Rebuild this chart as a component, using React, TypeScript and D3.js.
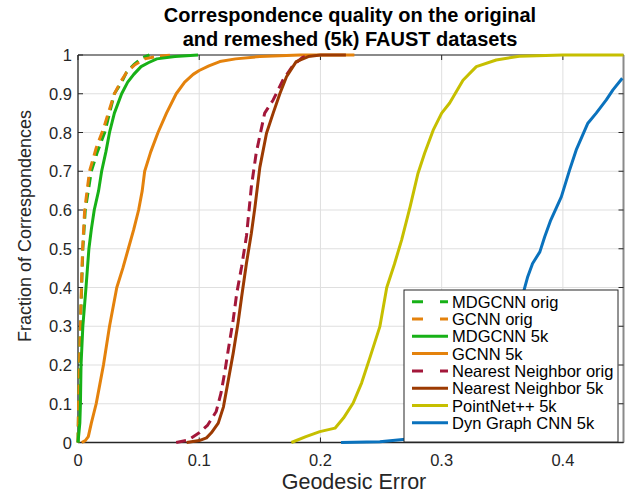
import React from "react"
import * as d3 from "d3"

// CDF curves: [geodesic error, fraction of correspondences]
const mdgcnnOrig: [number, number][] = [
  [0, 0], [0.0005, 0.1], [0.001, 0.2], [0.002, 0.3], [0.003, 0.4], [0.004, 0.5],
  [0.006, 0.6], [0.011, 0.7], [0.016, 0.75], [0.022, 0.8], [0.026, 0.85], [0.03, 0.9],
  [0.036, 0.93], [0.04, 0.955], [0.046, 0.975], [0.0525, 0.992], [0.059, 1],
]
const gcnnOrig: [number, number][] = [
  [0, 0], [0.0005, 0.1], [0.0012, 0.2], [0.002, 0.3], [0.0028, 0.4], [0.0038, 0.5],
  [0.0055, 0.6], [0.0095, 0.7], [0.015, 0.76], [0.021, 0.81], [0.026, 0.86], [0.03, 0.9],
  [0.035, 0.93], [0.04, 0.955], [0.047, 0.975], [0.055, 0.99], [0.066, 0.997], [0.078, 1],
]
const mdgcnn5k: [number, number][] = [
  [0, 0], [0.0015, 0.05], [0.002, 0.1], [0.0025, 0.2], [0.004, 0.3], [0.0066, 0.4],
  [0.009, 0.5], [0.011, 0.55], [0.0134, 0.6], [0.017, 0.65], [0.0195, 0.7], [0.023, 0.75],
  [0.026, 0.8], [0.03, 0.85], [0.036, 0.9], [0.041, 0.93], [0.046, 0.95], [0.052, 0.97],
  [0.058, 0.98], [0.065, 0.99], [0.08, 0.996], [0.099, 1],
]
const gcnn5k: [number, number][] = [
  [0.003, 0], [0.006, 0.005], [0.0085, 0.015], [0.011, 0.05], [0.015, 0.1], [0.018, 0.15],
  [0.021, 0.2], [0.026, 0.3], [0.032, 0.4], [0.037, 0.45], [0.0415, 0.5], [0.046, 0.55],
  [0.05, 0.6], [0.053, 0.65], [0.055, 0.7], [0.06, 0.75], [0.066, 0.8], [0.073, 0.85],
  [0.081, 0.9], [0.088, 0.93], [0.095, 0.95], [0.1, 0.96], [0.108, 0.972], [0.117, 0.983],
  [0.13, 0.99], [0.15, 0.996], [0.183, 1], [0.228, 1],
]
const nnOrig: [number, number][] = [
  [0.081, 0], [0.0907, 0.006], [0.1, 0.025], [0.107, 0.045], [0.114, 0.08], [0.118, 0.128],
  [0.121, 0.18], [0.124, 0.24], [0.128, 0.316], [0.131, 0.386], [0.135, 0.454], [0.139, 0.533],
  [0.143, 0.66], [0.147, 0.747], [0.154, 0.85], [0.161, 0.884], [0.169, 0.935], [0.1775, 0.974],
  [0.185, 0.993], [0.191, 1],
]
const nn5k: [number, number][] = [
  [0.0896, 0], [0.1, 0.005], [0.106, 0.012], [0.11, 0.025], [0.1157, 0.05], [0.12, 0.092],
  [0.124, 0.161], [0.128, 0.23], [0.132, 0.308], [0.135, 0.376], [0.139, 0.463], [0.143, 0.54],
  [0.146, 0.608], [0.15, 0.71], [0.1555, 0.798], [0.161, 0.85], [0.1665, 0.9], [0.172, 0.944],
  [0.18, 0.983], [0.19, 0.996], [0.2, 1], [0.221, 1],
]
const pointnet5k: [number, number][] = [
  [0.176, 0], [0.188, 0.015], [0.1995, 0.028], [0.212, 0.037], [0.219, 0.063], [0.227, 0.102],
  [0.234, 0.154], [0.241, 0.221], [0.249, 0.299], [0.2547, 0.4], [0.261, 0.46], [0.267, 0.523],
  [0.274, 0.609], [0.2805, 0.695], [0.286, 0.747], [0.293, 0.806], [0.3, 0.85], [0.3066, 0.876],
  [0.3176, 0.935], [0.3286, 0.97], [0.345, 0.987], [0.364, 0.997], [0.4, 1], [0.45, 1],
]
const dgcnn5k: [number, number][] = [
  [0.217, 0], [0.249, 0.002], [0.268, 0.008], [0.282, 0.012], [0.3, 0.025], [0.325, 0.07],
  [0.345, 0.16], [0.358, 0.27], [0.368, 0.394], [0.371, 0.428], [0.375, 0.462], [0.381, 0.492],
  [0.385, 0.531], [0.39, 0.574], [0.3987, 0.634], [0.4055, 0.703], [0.411, 0.755], [0.4206, 0.824],
  [0.4275, 0.85], [0.4358, 0.884], [0.4413, 0.91], [0.449, 0.94],
]

const seriesNames = [
  "MDGCNN orig", "GCNN orig", "MDGCNN 5k", "GCNN 5k",
  "Nearest Neighbor orig", "Nearest Neighbor 5k", "PointNet++ 5k", "Dyn Graph CNN 5k",
]
const seriesData = [mdgcnnOrig, gcnnOrig, mdgcnn5k, gcnn5k, nnOrig, nn5k, pointnet5k, dgcnn5k]
const seriesColors = [
  "#17b117", "#e4820c", "#17b117", "#e4820c", "#a3173a", "#9c3a02", "#c6bf00", "#0a72bd",
]
const seriesDashed = [true, true, false, false, true, false, false, false]

const xTicks = [0, 0.1, 0.2, 0.3, 0.4]
const yTicks = [0, 0.1, 0.2, 0.3, 0.4, 0.5, 0.6, 0.7, 0.8, 0.9, 1]

const W = 628
const H = 495
const left = 78
const right = 623.5
const top = 55
const bottom = 442.5
const font = "'Liberation Sans', Arial, Helvetica, sans-serif"

export default function App() {
  const x = d3.scaleLinear().domain([0, 0.45]).range([left, right])
  const y = d3.scaleLinear().domain([0, 1]).range([bottom, top])
  const line = d3
    .line<[number, number]>()
    .x(d => x(d[0]))
    .y(d => y(d[1]))

  const lgX = 404
  const lgY = 290
  const lgRow = 17.3

  return (
    <svg
      width={W}
      height={H}
      style={{ position: "absolute", left: 0, top: 0, background: "#fff" }}
      fontFamily={font}
    >
      <rect width={W} height={H} fill="#fff" />

      {/* grid */}
      <g stroke="#dfdfdf" strokeWidth={1}>
        {xTicks.filter(t => t > 0).map(t => (
          <line key={"gx" + t} x1={x(t)} x2={x(t)} y1={top} y2={bottom} />
        ))}
        {yTicks.filter(t => t > 0 && t < 1).map(t => (
          <line key={"gy" + t} x1={left} x2={right} y1={y(t)} y2={y(t)} />
        ))}
      </g>

      {/* box + ticks */}
      <g fill="none">
        <line x1={left} x2={right} y1={top} y2={top} stroke="#8a8a8a" strokeWidth={2} />
        <line x1={right} x2={right} y1={top} y2={bottom} stroke="#8a8a8a" strokeWidth={2} />
        <line x1={left} x2={left} y1={top} y2={bottom} stroke="#262626" strokeWidth={1.3} />
        <line x1={left} x2={right} y1={bottom} y2={bottom} stroke="#262626" strokeWidth={1.3} />
        {xTicks.map(t => (
          <g key={"tx" + t}>
            <line x1={x(t)} x2={x(t)} y1={bottom} y2={bottom - 5} stroke="#262626" />
            <line x1={x(t)} x2={x(t)} y1={top} y2={top + 5} stroke="#262626" />
          </g>
        ))}
        {yTicks.map(t => (
          <g key={"ty" + t}>
            <line x1={left} x2={left + 5} y1={y(t)} y2={y(t)} stroke="#262626" />
            <line x1={right} x2={right - 5} y1={y(t)} y2={y(t)} stroke="#262626" />
          </g>
        ))}
      </g>

      {/* tick labels */}
      <g fontSize={16.5} fill="#262626">
        {xTicks.map(t => (
          <text key={"lx" + t} x={x(t)} y={466} textAnchor="middle">
            {d3.format("~g")(t)}
          </text>
        ))}
        {yTicks.map(t => (
          <text key={"ly" + t} x={72} y={y(t) + 6} textAnchor="end">
            {d3.format("~g")(t)}
          </text>
        ))}
      </g>

      {/* curves */}
      <g fill="none" strokeWidth={3} strokeLinejoin="round">
        {seriesData.map((s, i) => (
          <path
            key={seriesNames[i]}
            d={line(s) || ""}
            stroke={seriesColors[i]}
            strokeDasharray={seriesDashed[i] ? "10 6" : undefined}
          />
        ))}
      </g>

      {/* axis titles */}
      <text x={354} y={489} textAnchor="middle" fontSize={21.5} fill="#262626">
        Geodesic Error
      </text>
      <text
        transform={`translate(31,226) rotate(-90)`}
        textAnchor="middle"
        fontSize={18}
        fill="#262626"
      >
        Fraction of Correspondences
      </text>
      <g fontSize={20} fontWeight="bold" textAnchor="middle" fill="#000">
        <text x={350} y={22}>Correspondence quality on the original</text>
        <text x={350} y={46}>and remeshed (5k) FAUST datasets</text>
      </g>

      {/* legend */}
      <g>
        <rect x={lgX} y={lgY} width={214} height={152} fill="#fff" stroke="#262626" strokeWidth={1} />
        {seriesNames.map((n, i) => {
          const cy = lgY + 11.7 + i * lgRow
          return (
            <g key={"lg" + n}>
              <line
                x1={lgX + 8}
                x2={lgX + 44}
                y1={cy}
                y2={cy}
                stroke={seriesColors[i]}
                strokeWidth={3}
                strokeDasharray={seriesDashed[i] ? "11 17 8 100" : undefined}
              />
              <text x={lgX + 48} y={cy + 6} fontSize={16.5} fill="#000">
                {n}
              </text>
            </g>
          )
        })}
      </g>
    </svg>
  )
}
